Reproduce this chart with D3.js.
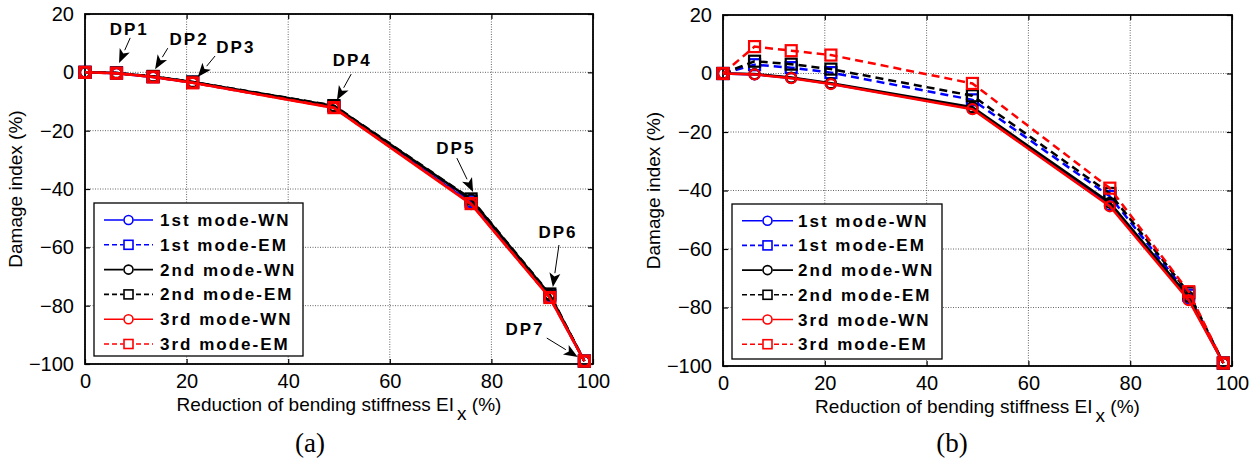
<!DOCTYPE html>
<html>
<head>
<meta charset="utf-8">
<script src="https://cdn.jsdelivr.net/npm/d3@7"></script>
<style>
  body { margin: 0; background: #fff; }
  svg { display: block; }
</style>
</head>
<body>
<svg id="chart" width="1255" height="468"></svg>
<script>
// ---------------- DATA ----------------
const stiffnessReduction = [0, 6.2, 13.4, 21.2, 49, 76, 91.5, 98.3];
const xTicks = [0, 20, 40, 60, 80, 100];
const yTicks = [20, 0, -20, -40, -60, -80, -100];
const seriesNames = ["1st mode-WN", "1st mode-EM", "2nd mode-WN", "2nd mode-EM", "3rd mode-WN", "3rd mode-EM"];

// Panel (a)
const a_1stWN = [0, -0.3, -1.6, -3.5, -12.0, -44.8, -77.0, -99.0];
const a_1stEM = [0, -0.2, -1.5, -3.4, -11.6, -44.2, -76.6, -99.0];
const a_2ndWN = [0, -0.2, -1.4, -3.3, -11.5, -43.6, -76.2, -99.0];
const a_2ndEM = [0, -0.2, -1.4, -3.3, -11.4, -43.4, -76.0, -99.0];
const a_3rdWN = [0, -0.3, -1.6, -3.6, -12.2, -45.2, -77.3, -99.0];
const a_3rdEM = [0, -0.3, -1.6, -3.6, -12.1, -45.0, -77.2, -99.0];

// Panel (b)
const b_1stWN = [0, -0.3, -1.5, -3.5, -12.0, -45.0, -77.0, -99.0];
const b_1stEM = [0, 3.0, 2.0, 0.3, -9.0, -42.0, -75.8, -99.0];
const b_2ndWN = [0, -0.2, -1.4, -3.3, -11.5, -44.2, -76.4, -99.0];
const b_2ndEM = [0, 4.2, 3.2, 1.5, -7.6, -41.0, -75.0, -99.0];
const b_3rdWN = [0, -0.3, -1.6, -3.6, -12.2, -45.4, -77.5, -99.0];
const b_3rdEM = [0, 9.2, 7.8, 6.3, -3.4, -39.2, -74.6, -99.0];

// Damage-point annotations (panel a)
const dpLabels = ["DP1", "DP2", "DP3", "DP4", "DP5", "DP6", "DP7"];
const dpTextX  = [8.7, 20.5, 29.7, 52.6, 73.0, 93.1, 86.6];
const dpTextY  = [12.8, 9.4, 6.6, 2.2, -28.0, -56.8, -90.0];
const dpFromX  = [8.9, 16.3, 25.6, 52.4, 73.2, 93.3, 90.9];
const dpFromY  = [11.8, 8.3, 5.6, -0.6, -29.4, -59.2, -91.1];
const dpToX    = [6.7, 13.8, 22.2, 49.6, 76.4, 92.1, 97.0];
const dpToY    = [3.2, 1.1, -1.6, -9.5, -41.0, -73.6, -97.6];

// ---------------- STYLES ----------------
const seriesStyle = [
  {color: "#0000ff", dash: null, marker: "circle"},
  {color: "#0000ff", dash: "8,5", marker: "square"},
  {color: "#000000", dash: null, marker: "circle"},
  {color: "#000000", dash: "8,5", marker: "square"},
  {color: "#ff0000", dash: null, marker: "circle"},
  {color: "#ff0000", dash: "8,5", marker: "square"}
];

const svg = d3.select("#chart");

function drawMarker(g, type, cx, cy, color, size, sw) {
  if (type === "circle") {
    g.append("circle").attr("cx", cx).attr("cy", cy).attr("r", size / 2)
      .attr("fill", "none").attr("stroke", color).attr("stroke-width", sw);
  } else {
    g.append("rect").attr("x", cx - size / 2).attr("y", cy - size / 2)
      .attr("width", size).attr("height", size)
      .attr("fill", "none").attr("stroke", color).attr("stroke-width", sw);
  }
}

function drawPanel(opt) {
  const {left, top, right, bottom, series, legend, label, labelX} = opt;
  const x = d3.scaleLinear().domain([0, 100]).range([left, right]);
  const y = d3.scaleLinear().domain([-100, 20]).range([bottom, top]);
  const g = svg.append("g");

  // grid
  const grid = g.append("g");
  xTicks.forEach(t => {
    grid.append("line").attr("x1", x(t)).attr("x2", x(t)).attr("y1", top).attr("y2", bottom)
      .attr("stroke", "#666").attr("stroke-width", 1).attr("stroke-dasharray", "1,1.5");
  });
  yTicks.forEach(t => {
    grid.append("line").attr("x1", left).attr("x2", right).attr("y1", y(t)).attr("y2", y(t))
      .attr("stroke", "#666").attr("stroke-width", 1).attr("stroke-dasharray", "1,1.5");
  });

  // axes via d3
  const xAxis = d3.axisBottom(x).tickValues(xTicks).tickSizeInner(-5).tickSizeOuter(0).tickPadding(10);
  const yAxis = d3.axisLeft(y).tickValues(yTicks).tickSizeInner(-5).tickSizeOuter(0).tickPadding(11);
  const xTop = d3.axisTop(x).tickValues(xTicks).tickSizeInner(-5).tickSizeOuter(0).tickFormat("");
  const yRight = d3.axisRight(y).tickValues(yTicks).tickSizeInner(-5).tickSizeOuter(0).tickFormat("");

  const gx = g.append("g").attr("transform", `translate(0,${bottom})`).call(xAxis);
  const gy = g.append("g").attr("transform", `translate(${left},0)`).call(yAxis);
  g.append("g").attr("transform", `translate(0,${top})`).call(xTop);
  g.append("g").attr("transform", `translate(${right},0)`).call(yRight);
  g.selectAll(".domain").remove();
  g.selectAll(".tick line").attr("stroke", "#000").attr("stroke-width", 1.2);
  [gx, gy].forEach(a => a.selectAll("text")
    .attr("font-family", "Liberation Sans, Arial, sans-serif").attr("font-size", 20).attr("fill", "#000"));

  // box
  g.append("rect").attr("x", left).attr("y", top).attr("width", right - left).attr("height", bottom - top)
    .attr("fill", "none").attr("stroke", "#000").attr("stroke-width", 1.8);

  // series
  const line = d3.line().x((d, i) => x(stiffnessReduction[i])).y(d => y(d));
  series.forEach((vals, si) => {
    const st = seriesStyle[si];
    const sg = g.append("g");
    sg.append("path").datum(vals).attr("d", line).attr("fill", "none")
      .attr("stroke", st.color).attr("stroke-width", 2.5)
      .attr("stroke-dasharray", st.dash);
    vals.forEach((v, i) => {
      drawMarker(sg, st.marker, x(stiffnessReduction[i]), y(v), st.color, st.marker === "circle" ? 10 : 11, 2.2);
    });
  });

  // legend
  const lg = g.append("g");
  lg.append("rect").attr("x", legend.x).attr("y", legend.y).attr("width", legend.w).attr("height", legend.h)
    .attr("fill", "#fff").attr("stroke", "#000").attr("stroke-width", 1.3);
  seriesNames.forEach((name, i) => {
    const cy = legend.row0 + i * legend.step;
    const st = seriesStyle[i];
    lg.append("line").attr("x1", legend.lx1).attr("x2", legend.lx2).attr("y1", cy).attr("y2", cy)
      .attr("stroke", st.color).attr("stroke-width", 1.6)
      .attr("stroke-dasharray", st.dash ? "5,3" : null);
    const mx = (legend.lx1 + legend.lx2) / 2;
    lg.append("rect").attr("x", mx - 5).attr("y", cy - 5).attr("width", 10).attr("height", 10)
      .attr("fill", "#fff").attr("stroke", "none");
    drawMarker(lg, st.marker, mx, cy, st.color, 9, 1.6);
    lg.append("text").attr("x", legend.tx).attr("y", cy + 6)
      .attr("font-family", "Liberation Sans, Arial, sans-serif").attr("font-weight", "bold")
      .attr("font-size", 17).attr("letter-spacing", 2).attr("fill", "#000").text(name);
  });

  // axis labels
  const cx = (left + right) / 2;
  const xl = g.append("text").attr("x", cx).attr("y", bottom + 47).attr("text-anchor", "middle")
    .attr("font-family", "Liberation Sans, Arial, sans-serif").attr("font-size", 19).attr("fill", "#000");
  xl.append("tspan").text("Reduction of bending stiffness EI");
  xl.append("tspan").attr("dy", 9).attr("dx", 3).text("x");
  xl.append("tspan").attr("dy", -9).text(" (%)");

  g.append("text").attr("transform", `translate(${left - 63},${(top + bottom) / 2}) rotate(-90)`)
    .attr("text-anchor", "middle")
    .attr("font-family", "Liberation Sans, Arial, sans-serif").attr("font-size", 19).attr("fill", "#000")
    .text("Damage index (%)");

  // panel label
  g.append("text").attr("x", labelX).attr("y", 452).attr("text-anchor", "middle")
    .attr("font-family", "Liberation Serif, Times New Roman, serif").attr("font-size", 27).attr("fill", "#000")
    .text(label);

  return {x, y, g};
}

const pa = drawPanel({
  left: 85, top: 14, right: 593, bottom: 364,
  series: [a_1stWN, a_1stEM, a_2ndWN, a_2ndEM, a_3rdWN, a_3rdEM],
  legend: {x: 94, y: 203, w: 209, h: 153, row0: 220, step: 24.8, lx1: 104, lx2: 153, tx: 160},
  label: "(a)", labelX: 310
});

const pb = drawPanel({
  left: 723, top: 15, right: 1232, bottom: 366,
  series: [b_1stWN, b_1stEM, b_2ndWN, b_2ndEM, b_3rdWN, b_3rdEM],
  legend: {x: 732, y: 204, w: 210, h: 155, row0: 220.7, step: 24.7, lx1: 742, lx2: 793, tx: 798},
  label: "(b)", labelX: 952
});

// DP annotations on panel (a)
const ag = pa.g.append("g");
dpLabels.forEach((lab, i) => {
  const x1 = pa.x(dpFromX[i]), y1 = pa.y(dpFromY[i]);
  const x2 = pa.x(dpToX[i]), y2 = pa.y(dpToY[i]);
  const ang = Math.atan2(y2 - y1, x2 - x1);
  const len = 14, hw = 5.5;
  const bx = x2 - len * Math.cos(ang), by = y2 - len * Math.sin(ang);
  ag.append("line").attr("x1", x1).attr("y1", y1).attr("x2", bx).attr("y2", by)
    .attr("stroke", "#000").attr("stroke-width", 1);
  const px = -Math.sin(ang), py = Math.cos(ang);
  const pts = [[x2, y2], [bx + hw * px, by + hw * py], [bx + 0.25 * len * Math.cos(ang), by + 0.25 * len * Math.sin(ang)], [bx - hw * px, by - hw * py]];
  ag.append("polygon").attr("points", pts.map(p => p.join(",")).join(" ")).attr("fill", "#000");
  ag.append("text").attr("x", pa.x(dpTextX[i])).attr("y", pa.y(dpTextY[i])).attr("text-anchor", "middle")
    .attr("font-family", "Liberation Sans, Arial, sans-serif").attr("font-weight", "bold")
    .attr("font-size", 17).attr("letter-spacing", 2).attr("fill", "#000").text(lab);
});
</script>
</body>
</html>
